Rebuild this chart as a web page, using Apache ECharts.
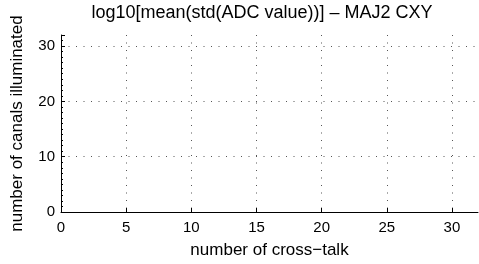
<!DOCTYPE html>
<html>
<head>
<meta charset="utf-8">
<script src="https://cdn.jsdelivr.net/npm/echarts@6/dist/echarts.min.js"></script>
<style>
  html, body { margin: 0; padding: 0; background: #fff; }
  #chart { width: 479px; height: 264px; }
</style>
</head>
<body>
<div id="chart"></div>
<script>
// axis ranges
const xRange = [0, 32];
const yRange = [0, 32];
const xStep = 5;
const yStep = 10;
// the plot is empty: no points were drawn
const crossTalk = [];
const canalsLit = [];

const titleText = 'log10[mean(std(ADC value))] \u2013 MAJ2 CXY';
const xName = 'number of cross\u2212talk';
const yName = 'number of canals illuminated';

const font = 'Liberation Sans, Arial, Helvetica, sans-serif';
const gridLine = { show: true, showMaxLine: false, showMinLine: false, lineStyle: { color: '#555', type: [1, 6.5], width: 1 } };

const chart = echarts.init(document.getElementById('chart'));
chart.setOption({
    backgroundColor: '#fff',
    animation: false,
    graphic: [{
        type: 'text',
        x: 262,
        y: 13,
        style: { text: titleText, x: 0, y: 0, fill: '#000', font: '18px ' + font, textAlign: 'center', textVerticalAlign: 'middle' }
    }],
    grid: { left: 61, right: 1, top: 35, bottom: 50 },
    xAxis: {
        type: 'value',
        min: xRange[0], max: xRange[1], interval: xStep,
        name: xName, nameLocation: 'middle', nameGap: 30,
        nameTextStyle: { color: '#000', fontSize: 17, fontFamily: font },
        axisLine: { show: true, lineStyle: { color: '#000', width: 1 } },
        axisTick: { show: true, inside: true, length: 4, lineStyle: { color: '#000' } },
        axisLabel: { color: '#000', fontSize: 15, fontFamily: font, margin: 8, showMaxLabel: false },
        splitLine: gridLine
    },
    yAxis: {
        type: 'value',
        min: yRange[0], max: yRange[1], interval: yStep,
        name: yName, nameLocation: 'middle', nameGap: 35,
        nameTextStyle: { color: '#000', fontSize: 17, fontFamily: font },
        axisLine: { show: true, lineStyle: { color: '#000', width: 1 } },
        axisTick: { show: true, inside: true, length: 4, lineStyle: { color: '#000' } },
        minorTick: { show: true, splitNumber: 10, length: 2, lineStyle: { color: '#000' } },
        axisLabel: { color: '#000', fontSize: 15, fontFamily: font, margin: 6, showMaxLabel: false },
        splitLine: gridLine
    },
    series: [{
        type: 'scatter',
        data: crossTalk.map((x, i) => [x, canalsLit[i]]),
        symbolSize: 4,
        itemStyle: { color: '#0000ff' }
    }]
});
</script>
</body>
</html>
